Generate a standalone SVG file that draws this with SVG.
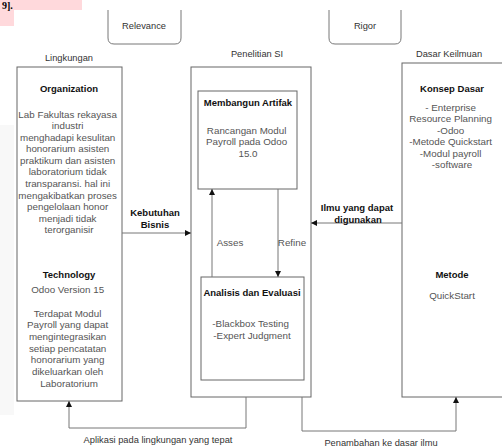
<svg xmlns="http://www.w3.org/2000/svg" width="502" height="448" viewBox="0 0 502 448">
<defs>
<style>
text{font-family:"Liberation Sans",Arial,sans-serif;text-anchor:middle}
.b{font-size:9.8px;fill:#555}
.t{font-size:9.5px;font-weight:bold;fill:#111}
.l{font-size:9.3px;fill:#333}
.box{fill:#fff;stroke:#666;stroke-width:1}
.c{fill:none;stroke:#777;stroke-width:1}
</style>
<marker id="ah" viewBox="0 0 10 10" refX="10" refY="5" markerWidth="6" markerHeight="6" orient="auto" markerUnits="userSpaceOnUse">
<path d="M0,0 L10,5 L0,10 z" fill="#111"/>
</marker>
</defs>
<rect width="502" height="448" fill="#fff"/>
<g id="page-bg">
<rect x="0" y="0" width="82" height="10" fill="#ffd9dc"/>
<rect x="0" y="10" width="14" height="16" fill="#ffd9dc"/>
<text x="2" y="9" style="font-family:'Liberation Serif',serif;font-weight:bold;font-size:10px;text-anchor:start;fill:#000">9].</text>
<rect x="0" y="125" width="14" height="290" fill="#f8f8f8"/>
</g>
<g id="relevance">
<path d="M108,10 V38 Q108,44 114,44 H175 Q181,44 181,38 V10" class="c" stroke="#666"/>
<text x="144" y="29" class="l">Relevance</text>
</g>
<g id="rigor">
<path d="M329,10 V38 Q329,44 335,44 H395 Q401,44 401,38 V10" class="c" stroke="#666"/>
<text x="365" y="29" class="l">Rigor</text>
</g>
<g id="headers">
<text x="69" y="61" class="l">Lingkungan</text>
<text x="257" y="57" class="l">Penelitian SI</text>
<text x="449" y="57" class="l">Dasar Keilmuan</text>
</g>
<g id="lingkungan">
<rect x="17" y="67" width="105" height="334" class="box"/>
<text x="69" y="91.5" class="t">Organization</text>
<text class="b">
<tspan x="69" y="117.5">Lab Fakultas rekayasa</tspan>
<tspan x="69" y="129">industri</tspan>
<tspan x="69" y="140.6">menghadapi kesulitan</tspan>
<tspan x="69" y="152.2">honorarium asisten</tspan>
<tspan x="69" y="163.8">praktikum dan asisten</tspan>
<tspan x="69" y="175.4">laboratorium tidak</tspan>
<tspan x="69" y="187">transparansi. hal ini</tspan>
<tspan x="69" y="198.6">mengakibatkan proses</tspan>
<tspan x="69" y="210.2">pengelolaan honor</tspan>
<tspan x="69" y="221.8">menjadi tidak</tspan>
<tspan x="69" y="233.4">terorganisir</tspan>
</text>
<text x="69" y="277.5" class="t">Technology</text>
<text class="b">
<tspan x="69" y="292.5">Odoo Version 15</tspan>
<tspan x="69" y="316.5">Terdapat Modul</tspan>
<tspan x="69" y="328.2">Payroll yang dapat</tspan>
<tspan x="69" y="339.9">mengintegrasikan</tspan>
<tspan x="69" y="351.6">setiap pencatatan</tspan>
<tspan x="69" y="363.3">honorarium yang</tspan>
<tspan x="69" y="375">dikeluarkan oleh</tspan>
<tspan x="69" y="386.7">Laboratorium</tspan>
</text>
</g>
<g id="penelitian">
<rect x="191" y="67" width="120" height="330" class="box"/>
</g>
<g id="membangun">
<rect x="198" y="91" width="99" height="98" class="box"/>
<text x="248" y="105.5" class="t">Membangun Artifak</text>
<text class="b">
<tspan x="248" y="133.5">Rancangan Modul</tspan>
<tspan x="248" y="145">Payroll pada Odoo</tspan>
<tspan x="248" y="156.5">15.0</tspan>
</text>
</g>
<g id="analisis">
<rect x="201" y="277" width="103" height="103" class="box"/>
<text x="252" y="295.5" class="t">Analisis dan Evaluasi</text>
<text class="b">
<tspan x="252" y="326.5">-Blackbox Testing</tspan>
<tspan x="252" y="338.5">-Expert Judgment</tspan>
</text>
</g>
<g id="dasar">
<rect x="402" y="63" width="110" height="334" class="box"/>
<text x="452" y="91.5" class="t">Konsep Dasar</text>
<text class="b">
<tspan x="452" y="110.5">- Enterprise</tspan>
<tspan x="452" y="122">Resource Planning</tspan>
<tspan x="452" y="133.5">-Odoo</tspan>
<tspan x="452" y="145">-Metode Quickstart</tspan>
<tspan x="452" y="156.5">-Modul payroll</tspan>
<tspan x="452" y="168">-software</tspan>
</text>
<text x="452" y="277.5" class="t">Metode</text>
<text x="452" y="298.5" class="b">QuickStart</text>
</g>
<g id="connectors">
<path d="M122,233 H191" class="c" marker-end="url(#ah)"/>
<path d="M402,223 H311" class="c" marker-end="url(#ah)"/>
<path d="M212,277 V189" class="c" marker-end="url(#ah)"/>
<path d="M278,189 V277" class="c" stroke="#444" marker-end="url(#ah)"/>
<path d="M246,397 V428 H69 V401" class="c" marker-end="url(#ah)"/>
<path d="M302,397 V431 H456 V397" class="c" stroke="#333" marker-end="url(#ah)"/>
<text x="155" y="216" class="t">Kebutuhan</text>
<text x="155" y="228" class="t">Bisnis</text>
<text x="357" y="211" class="t">Ilmu yang dapat</text>
<text x="358" y="222.5" class="t">digunakan</text>
<text x="230" y="245.5" class="b">Asses</text>
<text x="292" y="245.5" class="b">Refine</text>
<text x="158" y="443" class="l" fill="#222">Aplikasi pada lingkungan yang tepat</text>
<text x="381" y="446" class="l" fill="#222">Penambahan ke dasar ilmu</text>
</g>
</svg>
